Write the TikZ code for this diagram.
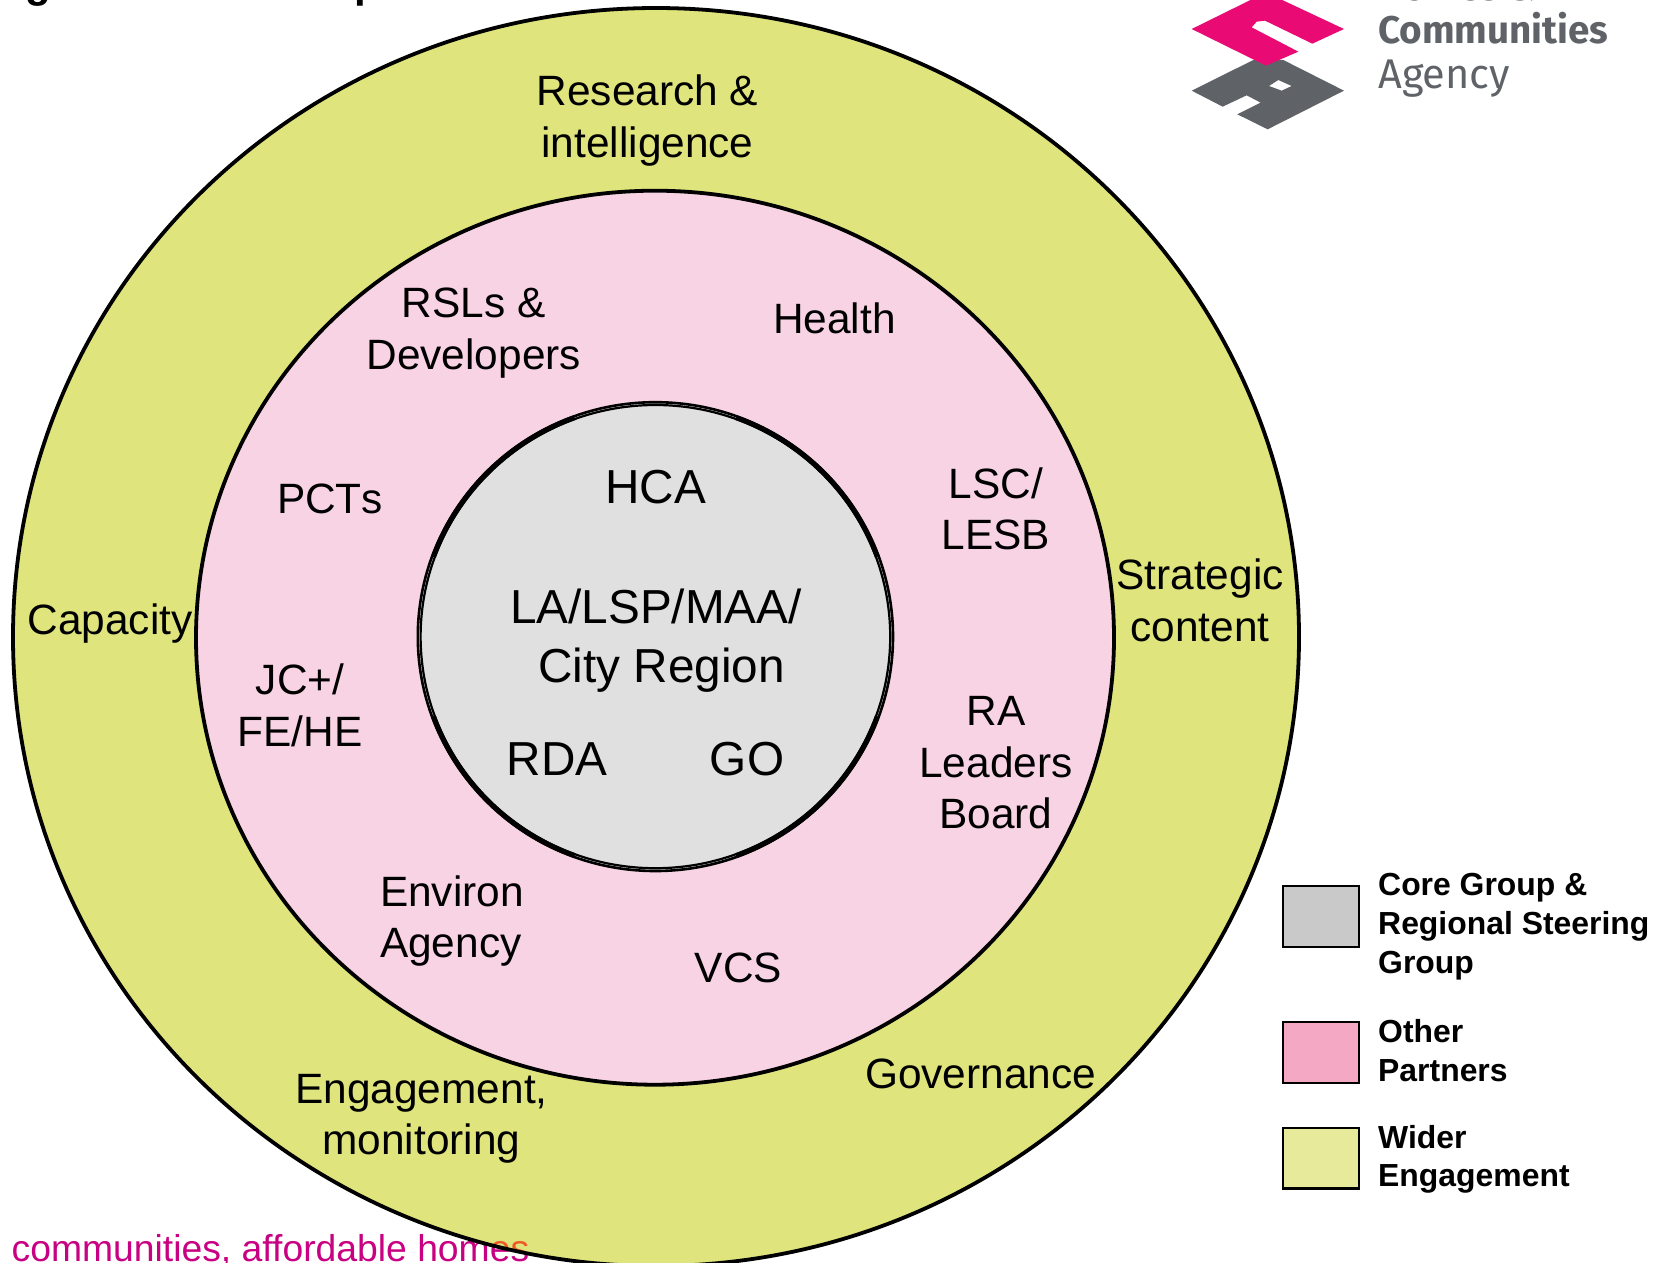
\documentclass[tikz,border=0pt]{standalone}
\usepackage{fontspec}
\setmainfont{Liberation Sans}
\newfontfamily\logofont{Fira Sans}
\definecolor{wider}{HTML}{DFE47C}
\definecolor{partner}{HTML}{F8D3E3}
\definecolor{core}{HTML}{E0E0E0}
\definecolor{legcore}{HTML}{C9C9C9}
\definecolor{legpartner}{HTML}{F4A8C4}
\definecolor{legwider}{HTML}{E7EA9A}
\definecolor{tagline}{HTML}{C80082}
\definecolor{logopink}{HTML}{E90A74}
\definecolor{logogrey}{HTML}{5F6368}
\definecolor{logolime}{HTML}{B5C400}
\tikzset{
  ring/.style={draw=black,line width=3.8pt},
  lab/.style={inner sep=0pt,align=center,font=\fontsize{42.4}{51.4}\selectfont},
  corelab/.style={inner sep=0pt,align=center,font=\fontsize{47.7}{59}\selectfont},
  legbox/.style={draw=black,line width=2.4pt},
  legtext/.style={inner sep=0pt,anchor=north west,align=left,font=\fontsize{31.9}{38.6}\selectfont\bfseries},
  tagtext/.style={anchor=base east,inner sep=0pt,font=\fontsize{37.3}{42}\selectfont},
  logotext/.style={anchor=base west,inner sep=0pt,text=logogrey},
}
\begin{document}
\begin{tikzpicture}[x=1pt,y=-1pt]
\useasboundingbox (0,0) rectangle (1661,1262);
\clip (0,0) rectangle (1661,1262);
% page furniture cut by the page edges
\node[anchor=base,inner sep=0pt,font=\fontsize{42}{50}\selectfont\bfseries] (gl) at (38,-3) {g};
\node[anchor=base,inner sep=0pt,font=\fontsize{42}{50}\selectfont\bfseries] (pl) at (367,-3) {p};
\node[tagtext,text=tagline] (tag) at (529.5,1261) {thriving communities, affordable homes};
% rings
\path[fill=wider] (656,637) ellipse [x radius=643,y radius=629];
\begin{scope}
\clip (656,637) ellipse [x radius=643,y radius=629];
\node[tagtext,text=orange!70!tagline] (tagb) at (529.5,1261) {thriving communities, affordable homes};
\end{scope}
\draw[ring] (656,637) ellipse [x radius=643,y radius=629];
\draw[ring,fill=partner] (655,637.7) ellipse [x radius=459,y radius=447];
% core circle: two hand-drawn outlines that part near the axes and merge on the diagonals
\draw[fill=core,line width=2.6pt] (655.4,636.6) ellipse [x radius=237.6,y radius=234.4];
\draw[line width=2.2pt] (655.4,636.6) ellipse [x radius=234.8,y radius=231.6];
\foreach \a in {20,110,200,290}{
  \draw[line width=5pt] plot[domain=\a:\a+50,samples=30,smooth] ({655.4+236.2*cos(\x)},{636.6-233*sin(\x)});
}
% ring labels
\node[lab] (research) at (647.5,120.5) {Research \&\\intelligence};
\node[lab] (strategic) at (1200,600.2) {Strategic\\content};
\node[lab] (capacity) at (110,624) {Capacity};
\node[lab] (governance) at (980.5,1074) {Governance};
\node[lab] (engagement) at (421.5,1118.5) {Engagement,\\monitoring};
\node[lab] (rsl) at (473.8,333) {RSLs \&\\Developers};
\node[lab] (health) at (834.5,318) {Health};
\node[lab,font=\fontsize{42.4}{51}\selectfont\addfontfeature{Kerning=Off}] (pct) at (330,499) {PCTs};
\node[lab] (lsc) at (996,508.6) {LSC/\\LESB};
\node[lab] (jc) at (300,705.5) {JC+/\\FE/HE};
\node[lab] (ra) at (996,763) {RA\\Leaders\\Board};
\node[lab,align=left] (env) at (452,921) {Environ\\Agency};
\node[lab] (vcs) at (738.5,968) {VCS};
\node[corelab] (hca) at (655.7,487) {HCA};
\node[corelab] (la) at (656,640.5) {LA/LSP/MAA/\\\hspace{11.6pt}City Region};
\node[corelab] (rda) at (557,759.5) {RDA};
\node[corelab] (go) at (747,759.5) {GO};
% legend
\draw[legbox,fill=legcore] (1282.7,886) rectangle (1359,947);
\draw[legbox,fill=legpartner] (1282.7,1022) rectangle (1359,1083);
\draw[legbox,fill=legwider] (1282.7,1127.7) rectangle (1359,1188.5);
\node[legtext] (lega) at (1378,873.5) {Core Group \&\\Regional Steering\\Group};
\node[legtext] (legb) at (1378,1019.5) {Other\\Partners};
\node[legtext] (legc) at (1378,1125) {Wider\\Engagement};
% logo (zoom coordinates /3 + offset)
\begin{scope}[x=0.3333pt,y=-0.3333pt,xshift=1150pt]
\fill[logogrey,even odd rule] (125,272)--(310,180)--(400,180)--(582,272)--(353,388)--(262,343)--(332,308)--(290,286)--(218,320)--cycle
  (357,258)--(385,240)--(425,258)--(395,272)--cycle;
\fill[logolime] (330,0)--(366,0)--(348,9)--cycle;
\fill[logopink] (125,87)--(348,-23)--(582,87)--(487,131)--(345,62)--(320,65)--(305,82)--(445,155)--(348,197)--cycle;
\end{scope}
\node[logotext,font=\logofont\fontsize{38.6}{44}\selectfont\bfseries] (homes) at (1378,0.8) {Homes \&};
\node[logotext,font=\logofont\fontsize{38.6}{44}\selectfont\bfseries] (comm) at (1378,43.5) {Communities};
\node[logotext,font=\logofont\fontsize{41.5}{44}\selectfont] (agency) at (1378,88) {Agency};
\end{tikzpicture}
\end{document}
